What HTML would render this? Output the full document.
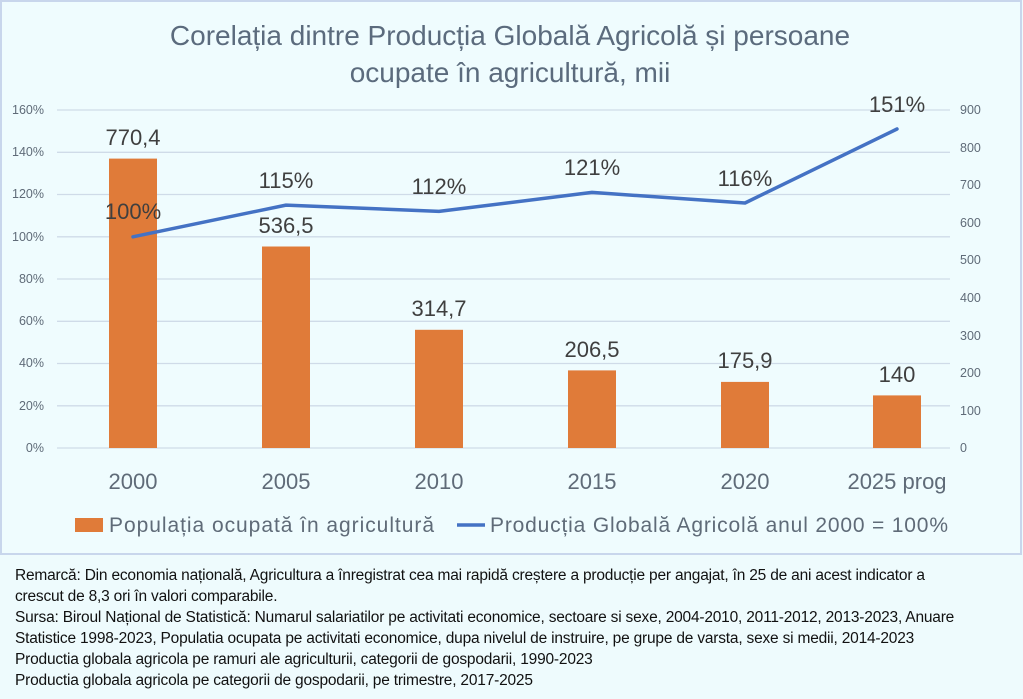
<!DOCTYPE html>
<html><head><meta charset="utf-8"><style>
body{margin:0;width:1023px;height:699px;background:#eefbfd;font-family:"Liberation Sans",sans-serif;overflow:hidden;position:relative}
.note{position:absolute;left:15px;top:565px;font-size:15.5px;line-height:21px;color:#111;width:980px;letter-spacing:-0.2px}
</style></head><body>
<svg width="1023" height="556" style="position:absolute;left:0;top:0" font-family="Liberation Sans, sans-serif">
<rect x="1" y="1" width="1020" height="553" fill="#effcfe" stroke="#c8d6ec" stroke-width="2"/>
<text x="510" y="45" text-anchor="middle" font-size="28" fill="#5b6b7d">Corelația dintre Producția Globală Agricolă și persoane</text>
<text x="510" y="82" text-anchor="middle" font-size="28" fill="#5b6b7d">ocupate în agricultură, mii</text>
<g stroke="#cfdbe8" stroke-width="1.3">
<line x1="57" x2="950" y1="110" y2="110"/><line x1="57" x2="950" y1="152.3" y2="152.3"/><line x1="57" x2="950" y1="194.5" y2="194.5"/><line x1="57" x2="950" y1="236.8" y2="236.8"/><line x1="57" x2="950" y1="279" y2="279"/><line x1="57" x2="950" y1="321.3" y2="321.3"/><line x1="57" x2="950" y1="363.5" y2="363.5"/><line x1="57" x2="950" y1="405.8" y2="405.8"/><line x1="57" x2="950" y1="448" y2="448"/>
</g>
<g font-size="12.5" fill="#5f6b78" text-anchor="end">
<text x="44" y="114">160%</text><text x="44" y="156">140%</text><text x="44" y="198">120%</text><text x="44" y="241">100%</text><text x="44" y="283">80%</text><text x="44" y="325">60%</text><text x="44" y="367">40%</text><text x="44" y="410">20%</text><text x="44" y="452">0%</text>
</g>
<g font-size="12.5" fill="#5f6b78" text-anchor="start">
<text x="960" y="114">900</text><text x="960" y="152">800</text><text x="960" y="189">700</text><text x="960" y="227">600</text><text x="960" y="264">500</text><text x="960" y="302">400</text><text x="960" y="340">300</text><text x="960" y="377">200</text><text x="960" y="415">100</text><text x="960" y="452">0</text>
</g>
<g fill="#e07b39">
<rect x="109" y="158.6" width="48" height="289.4"/>
<rect x="262" y="246.5" width="48" height="201.5"/>
<rect x="415" y="329.8" width="48" height="118.2"/>
<rect x="568" y="370.4" width="48" height="77.6"/>
<rect x="721" y="381.9" width="48" height="66.1"/>
<rect x="873" y="395.4" width="48" height="52.6"/>
</g>
<polyline points="133,236.8 286,205.1 439,211.4 592,192.4 745,203 897,129" fill="none" stroke="#4472c4" stroke-width="3.5" stroke-linejoin="round" stroke-linecap="round"/>
<g font-size="22" fill="#3f3f3f" text-anchor="middle">
<text x="133" y="145">770,4</text><text x="286" y="233">536,5</text><text x="439" y="316">314,7</text><text x="592" y="357">206,5</text><text x="745" y="368">175,9</text><text x="897" y="382">140</text>
<text x="133" y="219">100%</text><text x="286" y="188">115%</text><text x="439" y="194">112%</text><text x="592" y="175">121%</text><text x="745" y="186">116%</text><text x="897" y="112">151%</text>
</g>
<g font-size="22" fill="#5f6b78" text-anchor="middle">
<text x="133" y="489">2000</text><text x="286" y="489">2005</text><text x="439" y="489">2010</text><text x="592" y="489">2015</text><text x="745" y="489">2020</text><text x="897" y="489">2025 prog</text>
</g>
<rect x="75" y="518" width="28" height="14" fill="#e07b39"/>
<text x="109" y="532" font-size="21" fill="#5f6b78" textLength="325">Populația ocupată în agricultură</text>
<line x1="457" x2="485" y1="525" y2="525" stroke="#4472c4" stroke-width="3.5"/>
<text x="490" y="532" font-size="21" fill="#5f6b78" textLength="458">Producția Globală Agricolă anul 2000 = 100%</text>
</svg>
<div class="note">Remarcă: Din economia națională, Agricultura a înregistrat cea mai rapidă creștere a producție per angajat, în 25 de ani acest indicator a<br>crescut de 8,3 ori în valori comparabile.<br>Sursa: Biroul Național de Statistică: Numarul salariatilor pe activitati economice, sectoare si sexe, 2004-2010, 2011-2012, 2013-2023, Anuare Statistice 1998-2023, Populatia ocupata pe activitati economice, dupa nivelul de instruire, pe grupe de varsta, sexe si medii, 2014-2023<br>Productia globala agricola pe ramuri ale agriculturii, categorii de gospodarii, 1990-2023<br>Productia globala agricola pe categorii de gospodarii, pe trimestre, 2017-2025</div>
</body></html>
